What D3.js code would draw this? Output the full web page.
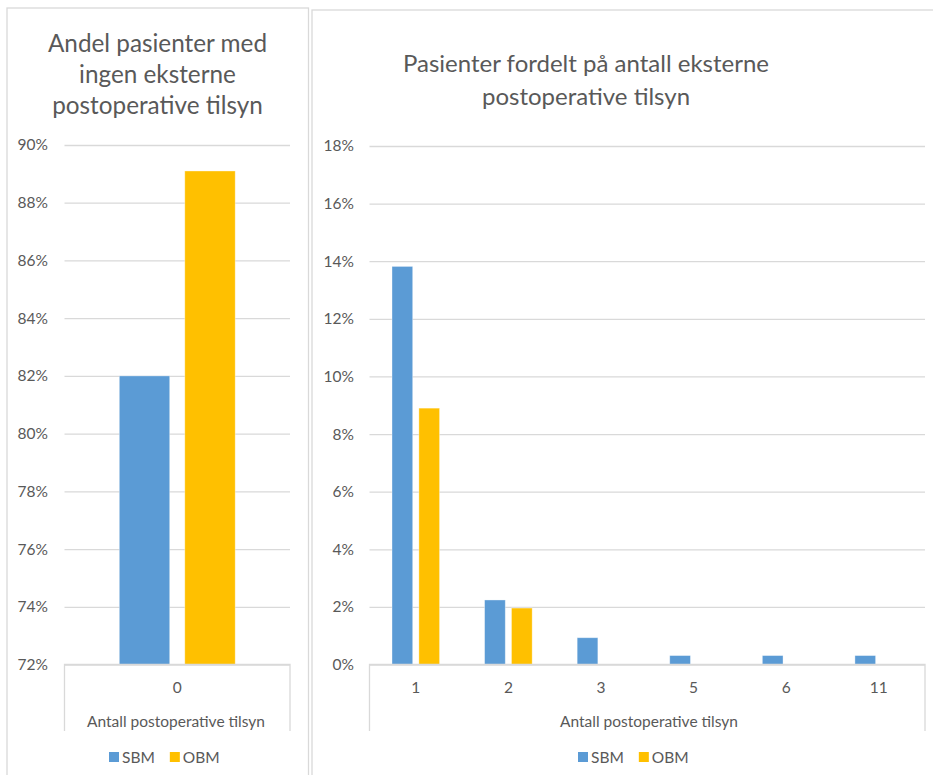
<!DOCTYPE html>
<html>
<head>
<meta charset="utf-8">
<script src="https://cdn.jsdelivr.net/npm/d3@7"></script>
<style>
  html, body { margin: 0; padding: 0; background: #fff; }
  svg { display: block; font-family: Lato, "Open Sans", sans-serif; }
</style>
</head>
<body>
<svg id="chart" width="933" height="775"></svg>
<script>
// Share of patients with no external post-operative follow-up (left panel)
const leftCategories = ["0"];
const leftSBM = [82.0];
const leftOBM = [89.1];
const leftTicks = [72, 74, 76, 78, 80, 82, 84, 86, 88, 90];

// Distribution by number of external post-operative follow-ups (right panel)
const rightCategories = ["1", "2", "3", "5", "6", "11"];
const rightSBM = [13.82, 2.24, 0.93, 0.31, 0.31, 0.31];
const rightOBM = [8.9, 1.96, 0, 0, 0, 0];
const rightTicks = [0, 2, 4, 6, 8, 10, 12, 14, 16, 18];

const seriesNames = ["SBM", "OBM"];
const colors = { SBM: "#5B9BD5", OBM: "#FFC000" };
const textColor = "#595959";
const gridColor = "#d9d9d9";
const axisTitle = "Antall postoperative tilsyn";
const labelSize = 15.5;

const svg = d3.select("#chart");

function drawPanel(opt) {
  const g = svg.append("g");

  // panel frame
  g.append("rect")
    .attr("x", opt.frame[0]).attr("y", opt.frame[1])
    .attr("width", opt.frame[2]).attr("height", opt.frame[3])
    .attr("fill", "#fff").attr("stroke", gridColor).attr("stroke-width", 1.3);

  // title
  const title = g.append("text")
    .attr("text-anchor", "middle")
    .attr("fill", textColor)
    .attr("font-size", opt.titleSize);
  opt.title.forEach((line, i) => {
    title.append("tspan").attr("x", opt.titleX).attr("y", opt.titleY + i * opt.titleLead).text(line);
  });

  const y = d3.scaleLinear().domain(opt.yDomain).range([opt.y0, opt.y1]);
  const x0 = d3.scaleBand().domain(opt.categories).range([opt.x0, opt.x1]).padding(0);
  const bw = x0.bandwidth();
  const x1 = d3.scaleBand().domain(seriesNames).range([bw * 0.243, bw * 0.757]).paddingInner(0.23);

  // gridlines + tick labels
  const yAxis = d3.axisLeft(y)
    .tickValues(opt.ticks)
    .tickSize(-(opt.x1 - opt.x0))
    .tickPadding(opt.tickPad)
    .tickFormat(d => d + "%");
  const ya = g.append("g").attr("transform", `translate(${opt.x0},0)`).call(yAxis);
  ya.select(".domain").remove();
  ya.selectAll(".tick line").attr("stroke", gridColor).attr("stroke-width", 1.3);
  ya.selectAll(".tick text").attr("fill", textColor).attr("font-size", labelSize)
    .attr("font-family", "Lato, sans-serif");

  // bars
  const rows = opt.categories.map((c, i) => ({ cat: c, SBM: opt.sbm[i], OBM: opt.obm[i] }));
  const grp = g.append("g").selectAll("g").data(rows).join("g")
    .attr("transform", d => `translate(${x0(d.cat)},0)`);
  grp.selectAll("rect")
    .data(d => seriesNames.map(s => ({ s, v: d[s] })).filter(e => e.v > 0))
    .join("rect")
    .attr("x", e => x1(e.s))
    .attr("width", x1.bandwidth())
    .attr("y", e => y(e.v))
    .attr("height", e => y(opt.yDomain[0]) - y(e.v))
    .attr("fill", e => colors[e.s])
    .attr("stroke", "#fff").attr("stroke-opacity", 0.45).attr("stroke-width", 0.8);

  // category axis with bracket lines
  const base = y(opt.yDomain[0]);
  const xAxis = d3.axisBottom(x0).tickSize(0).tickPadding(17);
  const xa = g.append("g").attr("transform", `translate(0,${base})`).call(xAxis);
  xa.select(".domain").remove();
  xa.selectAll(".tick text").attr("fill", textColor).attr("font-size", labelSize)
    .attr("font-family", "Lato, sans-serif");
  g.append("path")
    .attr("d", `M${opt.x0},${opt.bracketBottom}V${base}H${opt.x1}V${opt.bracketBottom}`)
    .attr("fill", "none").attr("stroke", gridColor).attr("stroke-width", 1.3);

  // axis title
  g.append("text")
    .attr("x", opt.axisTitleX).attr("y", 726.5)
    .attr("text-anchor", "middle").attr("fill", textColor).attr("font-size", labelSize)
    .text(axisTitle);

  // legend
  const lg = g.append("g").attr("transform", `translate(${opt.legendX},757)`);
  let cx = 0;
  seriesNames.forEach(s => {
    lg.append("rect").attr("x", cx).attr("y", -5).attr("width", 10).attr("height", 10).attr("fill", colors[s]);
    const t = lg.append("text").attr("x", cx + 13).attr("y", 5.5)
      .attr("fill", textColor).attr("font-size", labelSize).text(s);
    cx += 13 + t.node().getComputedTextLength() + 15;
  });
}

drawPanel({
  frame: [7, 8, 301.5, 800],
  title: ["Andel pasienter med", "ingen eksterne", "postoperative tilsyn"],
  titleX: 157.5, titleY: 52, titleLead: 31, titleSize: 24.3,
  categories: leftCategories, sbm: leftSBM, obm: leftOBM,
  yDomain: [72, 90], ticks: leftTicks,
  y0: 664.5, y1: 145, x0: 64.5, x1: 290, tickPad: 16.5,
  bracketBottom: 731, axisTitleX: 176, legendX: 109
});

drawPanel({
  frame: [312, 10, 640, 800],
  title: ["Pasienter fordelt på antall eksterne", "postoperative tilsyn"],
  titleX: 586, titleY: 72, titleLead: 33, titleSize: 24,
  categories: rightCategories, sbm: rightSBM, obm: rightOBM,
  yDomain: [0, 18], ticks: rightTicks,
  y0: 664.5, y1: 146, x0: 369.5, x1: 925, tickPad: 15.5,
  bracketBottom: 731, axisTitleX: 649, legendX: 578
});
</script>
</body>
</html>
